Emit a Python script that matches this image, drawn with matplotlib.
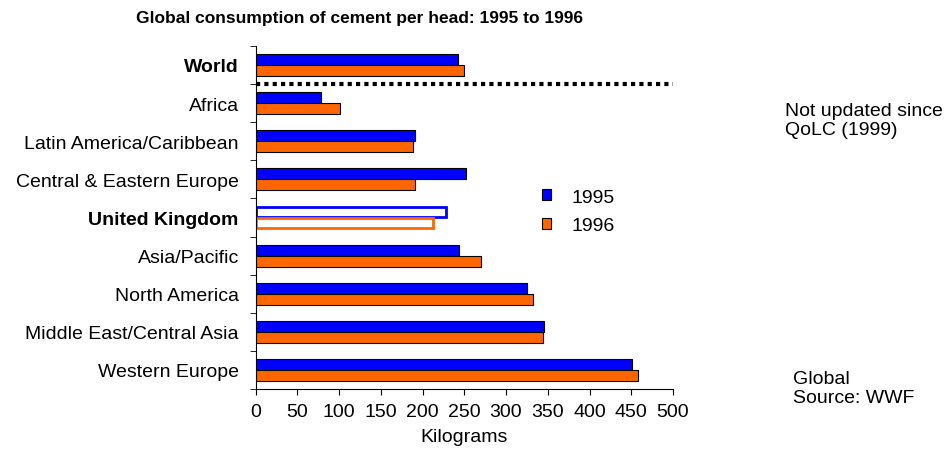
import matplotlib
matplotlib.use("Agg")
import matplotlib.pyplot as plt
import numpy as np
from matplotlib.patches import Patch

plt.rcParams['font.family'] = ['Liberation Sans', 'DejaVu Sans']

categories = ["World", "Africa", "Latin America/Caribbean", "Central & Eastern Europe",
              "United Kingdom", "Asia/Pacific", "North America",
              "Middle East/Central Asia", "Western Europe"]
v1995 = [242, 79, 191, 252, 228, 244, 325, 345, 451]
v1996 = [250, 101, 188, 191, 213, 270, 332, 344, 458]
bold_labels = ["World", "United Kingdom"]
highlight = "United Kingdom"
xticks = [0, 50, 100, 150, 200, 250, 300, 350, 400, 450, 500]

blue = "#0000FF"
orange = "#FF6600"

fig = plt.figure(figsize=(9.51, 4.52), dpi=100)
ax = fig.add_axes([0.2687, 0.1372, 0.439, 0.759])

y = np.arange(len(categories))
h = 0.29
for i, cat in enumerate(categories):
    if cat == highlight:
        ax.barh(y[i] - h / 2, v1995[i], height=h * 0.85, color="white", edgecolor=blue, linewidth=2)
        ax.barh(y[i] + h / 2, v1996[i], height=h * 0.85, color="white", edgecolor=orange, linewidth=2)
    else:
        ax.barh(y[i] - h / 2, v1995[i], height=h, color=blue, edgecolor="black", linewidth=0.8)
        ax.barh(y[i] + h / 2, v1996[i], height=h, color=orange, edgecolor="black", linewidth=0.8)

ax.plot([0, 500], [0.5, 0.5], color="black", linewidth=3, linestyle=(0, (1, 1)), clip_on=False)

ax.set_xlim(0, 500)
ax.set_ylim(len(categories) - 0.5, -0.5)
ax.set_xticks(xticks)
ax.set_xticklabels([str(t) for t in xticks], fontsize=14)
ax.set_yticks(y)
ax.set_yticklabels(categories, fontsize=14)
for lab in ax.get_yticklabels():
    if lab.get_text() in bold_labels:
        lab.set_fontweight("bold")
ax.set_yticks(np.arange(-0.5, len(categories) + 0.5, 1), minor=True)
ax.tick_params(axis="y", which="major", length=0, pad=12)
ax.tick_params(axis="y", which="minor", length=4, direction="out")
ax.tick_params(axis="x", length=4, direction="out", pad=6)
ax.set_xlabel("Kilograms", fontsize=14, labelpad=6)
for s in ["top", "right"]:
    ax.spines[s].set_visible(False)

handles = [Patch(facecolor=blue, edgecolor="black", linewidth=0.8, label="1995"),
           Patch(facecolor=orange, edgecolor="black", linewidth=0.8, label="1996")]
ax.legend(handles=handles, loc="upper left", bbox_to_anchor=(0.645, 0.635), frameon=False,
          fontsize=14, handlelength=0.45, handleheight=0.45, handletextpad=1.05, labelspacing=0.6)

fig.text(359 / 951, 1 - 19 / 452, "Global consumption of cement per head: 1995 to 1996",
         ha="center", va="center", fontsize=12.5, fontweight="bold")
fig.text(785 / 951, 1 - 121 / 452, "Not updated since\nQoLC (1999)", ha="left", va="center",
         fontsize=14, linespacing=1.2)
fig.text(793 / 951, 1 - 389 / 452, "Global\nSource: WWF", ha="left", va="center",
         fontsize=14, linespacing=1.2)

fig.savefig("out.png", dpi=100)
